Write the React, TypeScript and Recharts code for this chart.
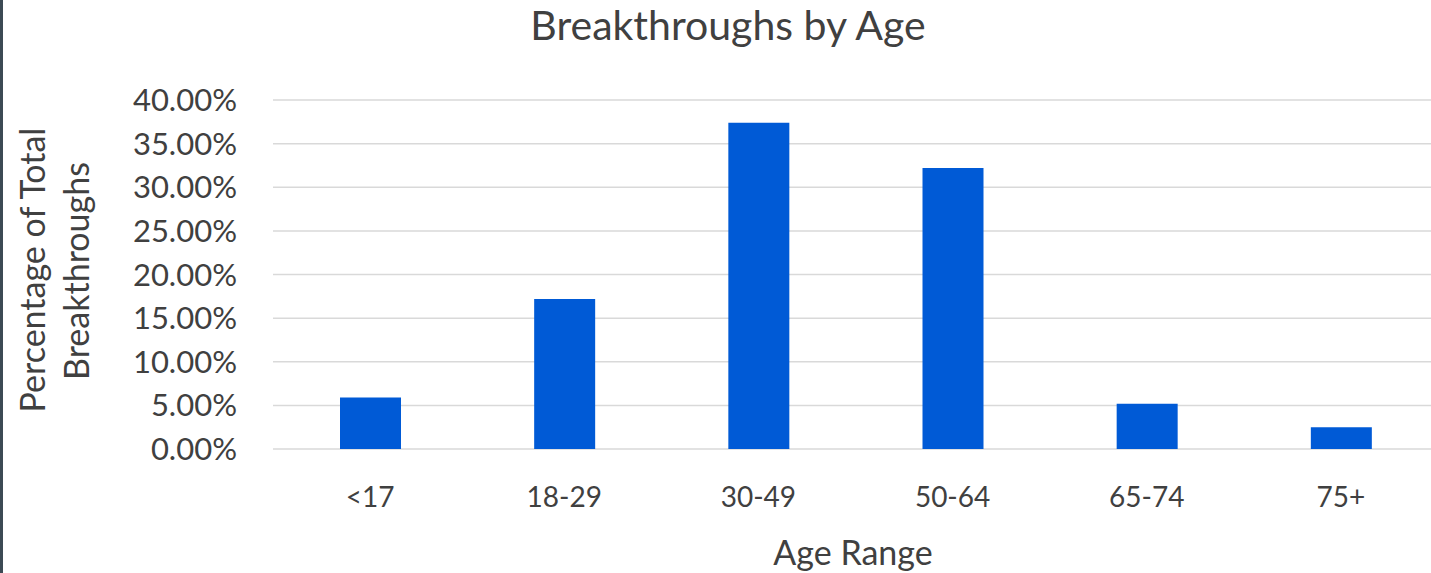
import { BarChart, Bar, XAxis, YAxis, CartesianGrid } from "recharts";

// Share of total breakthroughs per age bracket (percent)
const ageRanges = ["<17", "18-29", "30-49", "50-64", "65-74", "75+"];
const breakthroughPct = [5.9, 17.2, 37.4, 32.2, 5.2, 2.5];
const yTicks = [0, 5, 10, 15, 20, 25, 30, 35, 40];

const data = ageRanges.map((age, i) => ({ age, pct: breakthroughPct[i] }));

const FONT = "Lato, 'Open Sans', sans-serif";
const TEXT = "#404040";

function PercentTick({ x, y, payload }: any) {
  return (
    <text
      x={x}
      y={y}
      dy="0.355em"
      textAnchor="end"
      fontSize={31}
      fill={TEXT}
      fontFamily={FONT}
    >
      {`${Number(payload.value).toFixed(2)}%`}
    </text>
  );
}

export default function App() {
  return (
    <div
      style={{
        position: "fixed",
        left: 0,
        top: 0,
        width: 1431,
        height: 573,
        overflow: "hidden",
        background: "#fff",
      }}
    >
      <BarChart
        width={1440}
        height={573}
        data={data}
        margin={{ top: 100, right: 2, bottom: 64, left: 213 }}
        style={{ fontFamily: FONT }}
      >
        <CartesianGrid vertical={false} stroke="#d9d9d9" strokeWidth={1.5} />
        <XAxis
          dataKey="age"
          height={60}
          axisLine={false}
          tickLine={false}
          tickSize={0}
          tickMargin={38}
          tick={{ fontSize: 28, fill: TEXT, fontFamily: FONT }}
        />
        <YAxis
          width={60}
          domain={[0, 40]}
          ticks={yTicks}
          interval={0}
          axisLine={false}
          tickLine={false}
          tickSize={0}
          tickMargin={36}
          tick={PercentTick}
        />
        <Bar dataKey="pct" fill="#005ad6" barSize={61} isAnimationActive={false} />
        <text x={728} y={40} textAnchor="middle" fontSize={41} fill={TEXT} fontFamily={FONT}>
          Breakthroughs by Age
        </text>
        <text x={853} y={565} textAnchor="middle" fontSize={34} fill={TEXT} fontFamily={FONT}>
          Age Range
        </text>
        <text
          x={45}
          y={270}
          textAnchor="middle"
          fontSize={34}
          fill={TEXT}
          fontFamily={FONT}
          transform="rotate(-90 45 270)"
        >
          Percentage of Total
        </text>
        <text
          x={89}
          y={271}
          textAnchor="middle"
          fontSize={34}
          fill={TEXT}
          fontFamily={FONT}
          transform="rotate(-90 89 271)"
        >
          Breakthroughs
        </text>
      </BarChart>
      <div
        style={{ position: "absolute", left: 0, top: 0, width: 3, height: 573, background: "#3c4a54" }}
      />
    </div>
  );
}
